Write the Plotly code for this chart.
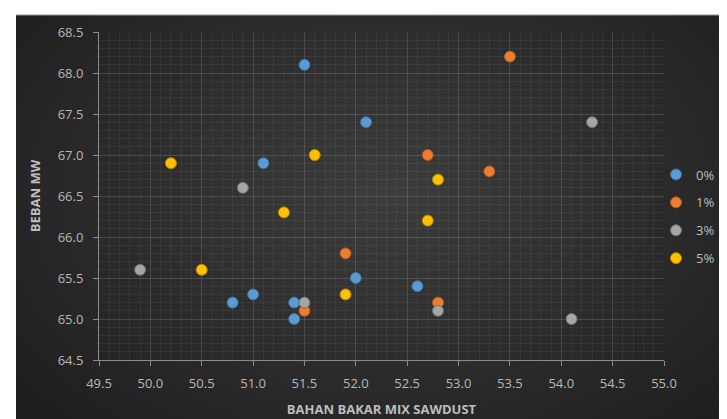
import plotly.graph_objects as go

# ---------------- data ----------------
series_names = ["0%", "1%", "3%", "5%"]

x_0 = [51.5, 52.1, 51.1, 52.0, 51.0, 50.8, 51.4, 51.4, 52.6]
y_0 = [68.1, 67.4, 66.9, 65.5, 65.3, 65.2, 65.2, 65.0, 65.4]

x_1 = [53.5, 52.7, 53.3, 51.9, 51.5, 52.8]
y_1 = [68.2, 67.0, 66.8, 65.8, 65.1, 65.2]

x_3 = [54.3, 50.9, 49.9, 51.5, 52.8, 54.1]
y_3 = [67.4, 66.6, 65.6, 65.2, 65.1, 65.0]

x_5 = [50.2, 51.6, 51.3, 52.8, 52.7, 50.5, 51.9]
y_5 = [66.9, 67.0, 66.3, 66.7, 66.2, 65.6, 65.3]

colors = ["#5B9BD5", "#ED7D31", "#A5A5A5", "#FFC000"]
outline = ["#3f6f99", "#a8561f", "#6e6e6e", "#b58800"]

# ---------------- layout geometry ----------------
W, H = 727, 419
L, R, T, B = 91, 71, 24, 67
PW, PH = W - L - R, H - T - B


def px_x(px):
    return (px - L) / PW


def px_y(py):
    return (H - B - py) / PH


fig = go.Figure()
xs = [x_0, x_1, x_3, x_5]
ys = [y_0, y_1, y_3, y_5]
for name, xv, yv, c, oc in zip(series_names, xs, ys, colors, outline):
    fig.add_trace(go.Scatter(
        x=xv, y=yv, mode="markers", name=name, legendgroup=name,
        marker=dict(size=11, color=c, line=dict(width=1, color=oc)),
    ))

shapes = []
# dark background panel
shapes.append(dict(type="rect", xref="paper", yref="paper",
                   x0=px_x(8), x1=px_x(W + 2), y0=px_y(H + 2), y1=px_y(7),
                   fillcolor="#1e1e1e", line=dict(width=0), layer="below"))
# radial-ish gradient via stacked translucent ellipses
N = 30
cx, cy = 378, 185
for i in range(N):
    f = 1 - i / N
    rx, ry = 470 * f, 320 * f
    shapes.append(dict(type="circle", xref="paper", yref="paper",
                       x0=px_x(cx - rx), x1=px_x(cx + rx),
                       y0=px_y(cy + ry), y1=px_y(cy - ry),
                       fillcolor="rgba(255,255,255,0.0085)",
                       line=dict(width=0), layer="below"))
# thin top border line of the panel
shapes.append(dict(type="line", xref="paper", yref="paper",
                   x0=px_x(8), x1=px_x(W + 2), y0=px_y(7), y1=px_y(7),
                   line=dict(width=1, color="#9a9a9a"), layer="below"))

tick_font = dict(family="Open Sans, sans-serif", size=13, color="#b8b8b8")
title_font = dict(family="Open Sans, sans-serif", size=13, color="#bdbdbd")

axis_common = dict(
    showgrid=True, gridcolor="rgba(255,255,255,0.14)", gridwidth=1,
    showline=True, linecolor="#8c8c8c", linewidth=1,
    ticks="outside", ticklen=5, tickcolor="#8c8c8c", tickwidth=1,
    tickfont=tick_font, zeroline=False, tickformat=".1f", automargin=False,
    minor=dict(dtick=0.1, showgrid=True, gridcolor="rgba(255,255,255,0.05)",
               gridwidth=1, ticks=""),
)

fig.update_layout(
    width=W, height=H,
    margin=dict(l=L, r=R, t=T, b=B, autoexpand=False),
    paper_bgcolor="white",
    plot_bgcolor="rgba(0,0,0,0)",
    shapes=shapes,
    xaxis=dict(range=[49.5, 55.0], dtick=0.5, tick0=49.5,
               title=dict(text="<b>BAHAN BAKAR MIX SAWDUST</b>", font=title_font, standoff=14),
               ticklabelstandoff=6, **axis_common),
    yaxis=dict(range=[64.5, 68.5], dtick=0.5, tick0=64.5,
               title=dict(text="<b>BEBAN MW</b>", font=title_font, standoff=14),
               ticklabelstandoff=7, **axis_common),
    legend=dict(x=px_x(648), xanchor="left", y=px_y(208.5), yanchor="middle",
                font=dict(family="Open Sans, sans-serif", size=13, color="#bdbdbd"),
                bgcolor="rgba(0,0,0,0)", borderwidth=0, tracegroupgap=8,
                itemsizing="trace", itemwidth=30),
    showlegend=True,
)

fig.write_html("out.html")
